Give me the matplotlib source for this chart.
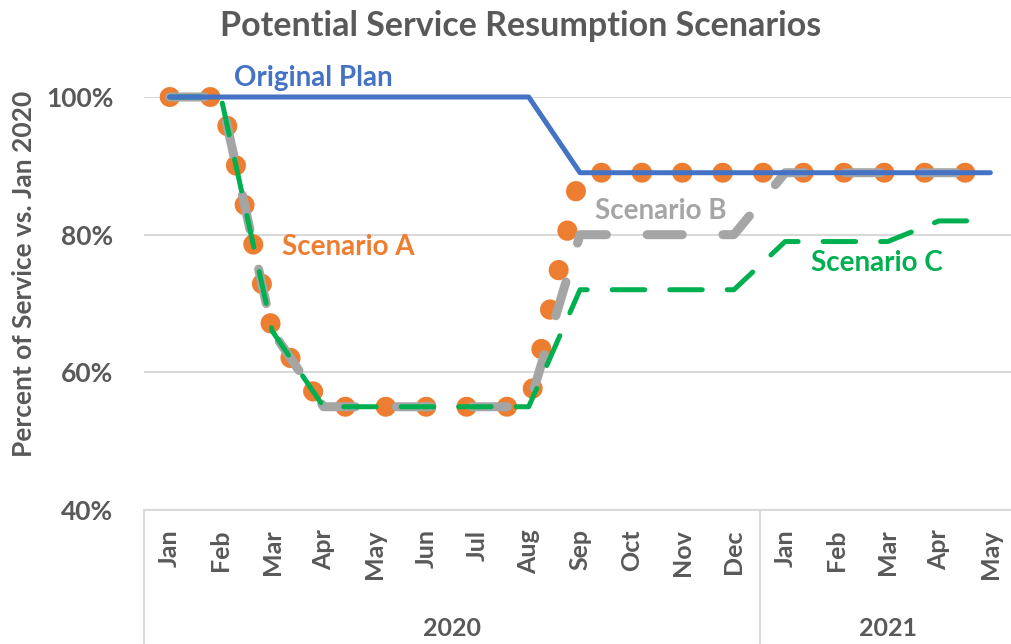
import matplotlib.pyplot as plt
import matplotlib.transforms as mtransforms

months = ["Jan", "Feb", "Mar", "Apr", "May", "Jun", "Jul", "Aug", "Sep", "Oct",
          "Nov", "Dec", "Jan", "Feb", "Mar", "Apr", "May"]
years = ["2020", "2021"]
year_spans = [(0, 11), (12, 16)]

original_plan = [100, 100, 100, 100, 100, 100, 100, 100, 89, 89, 89, 89, 89, 89, 89, 89, 89]
scenario_a = [100, 100, 66, 55, 55, 55, 55, 55, 89, 89, 89, 89, 89, 89, 89, 89, 89]
scenario_b = [100, 100, 66, 55, 55, 55, 55, 55, 80, 80, 80, 80, 89, 89, 89, 89, 89]
scenario_c = [100, 100, 66, 55, 55, 55, 55, 55, 72, 72, 72, 72, 79, 79, 79, 82, 82]

yticks = [40, 60, 80, 100]

TXT = "#595959"
GRID = "#d9d9d9"
FONT = "Lato"

plt.rcParams["font.family"] = [FONT, "DejaVu Sans"]
plt.rcParams["font.weight"] = "bold"

fig = plt.figure(figsize=(10.12, 6.44), dpi=100)
W, H = 1012, 644
# plot area in pixels: x 144..1016, y 97..510
ax = fig.add_axes([144 / W, (H - 510) / H, (1016 - 144) / W, (510 - 97) / H])

x = list(range(len(months)))

ax.plot(x, scenario_a, color="#ED7D31", lw=14.4, linestyle=(0, (0.02, 2.0)),
        dash_capstyle="round", clip_on=False, zorder=3)
ax.plot(x, scenario_b, color="#A5A5A5", lw=6.5, linestyle=(0, (3.9, 4.5)),
        dash_capstyle="round", solid_joinstyle="round", clip_on=False, zorder=4)
ax.plot(x, scenario_c, color="#00B050", lw=3.6, linestyle=(0, (6.5, 5.0)),
        dash_capstyle="round", clip_on=False, zorder=5)
ax.plot(x, original_plan, color="#4472C4", lw=3.6, solid_capstyle="round",
        clip_on=False, zorder=6)

ax.set_xlim(-0.5, len(months) - 0.5)
ax.set_ylim(40, 100)
ax.set_yticks(yticks)
ax.set_yticklabels([f"{v}%" for v in yticks], fontsize=19, color=TXT, fontweight="bold")
ax.set_xticks(x)
ax.set_xticklabels(months, rotation=90, fontsize=18, color=TXT, fontweight="bold")
ax.tick_params(axis="x", length=0, pad=14)
ax.tick_params(axis="y", length=0, pad=22)

for s in ["left", "right", "top"]:
    ax.spines[s].set_visible(False)
ax.spines["bottom"].set_color(GRID)
ax.spines["bottom"].set_linewidth(1.5)
ax.yaxis.grid(True, color=GRID, lw=1.5)
ax.set_axisbelow(True)

# multi-level category axis: year labels + separators
trans = mtransforms.blended_transform_factory(ax.transData, ax.transAxes)
for label, (a, b) in zip(years, year_spans):
    ax.text((a + b) / 2, -0.286, label, transform=trans, ha="center", va="center",
            fontsize=18, color=TXT, fontweight="bold")
for sep in [-0.5, 11.5, 16.5]:
    ax.plot([sep, sep], [0, -0.33], transform=trans, color=GRID, lw=1.5, clip_on=False)

# inline series labels
ax.text(2.81, 102.8, "Original Plan", color="#4472C4", fontsize=20, ha="center",
        va="center", fontweight="bold")
ax.text(3.49, 78.2, "Scenario A", color="#ED7D31", fontsize=20, ha="center",
        va="center", fontweight="bold")
ax.text(9.58, 83.4, "Scenario B", color="#A5A5A5", fontsize=20, ha="center",
        va="center", fontweight="bold")
ax.text(13.78, 75.9, "Scenario C", color="#00B050", fontsize=20, ha="center",
        va="center", fontweight="bold")

fig.text(521 / W, 1 - 26 / H, "Potential Service Resumption Scenarios", ha="center",
         va="center", fontsize=24.5, color=TXT, fontweight="bold")
fig.text(24 / W, 1 - 274 / H, "Percent of Service vs. Jan 2020", rotation=90,
         ha="center", va="center", fontsize=19, color=TXT, fontweight="bold")

fig.savefig("out.png", dpi=100)
